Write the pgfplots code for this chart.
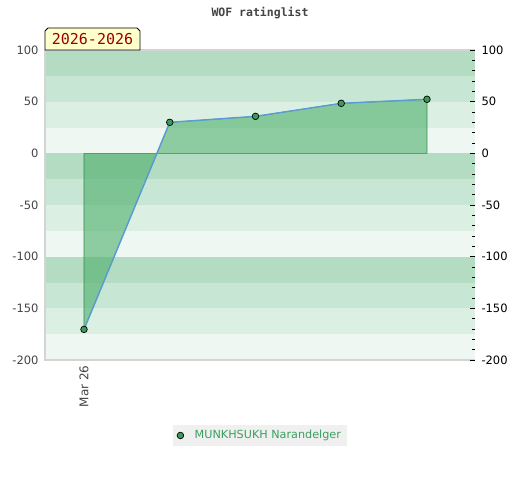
\documentclass[border=0pt]{standalone}
\usepackage{pgfplots}
\pgfplotsset{compat=1.18}
\usepackage{fontspec}
\setmainfont{DejaVu Sans}
\newfontfamily\monofont{DejaVu Sans Mono}
\definecolor{bandA}{HTML}{B3DCC2}
\definecolor{bandB}{HTML}{C8E6D4}
\definecolor{bandC}{HTML}{DCEFE3}
\definecolor{bandD}{HTML}{EFF7F2}
\definecolor{fillgreen}{HTML}{4CAE6A}
\definecolor{edgegreen}{HTML}{2E8B4E}
\definecolor{lineblue}{HTML}{5B9BD5}
\definecolor{markgreen}{HTML}{3A9A5A}
\definecolor{legendbg}{HTML}{F0F0F0}
\definecolor{legendtext}{HTML}{3AA060}
\definecolor{labelgray}{HTML}{444444}
\definecolor{framegray}{HTML}{D4D4D4}
\definecolor{boxyellow}{HTML}{FFFFCC}
\definecolor{boxred}{HTML}{990000}
\begin{document}
\begin{tikzpicture}[x=1pt,y=1pt]
\path (0,0) rectangle (520,480);
\begin{axis}[
  at={(45pt,120pt)}, anchor=south west,
  width=430pt, height=310pt, scale only axis,
  xmin=-0.455, xmax=4.56, ymin=-200, ymax=100,
  axis line style={draw=none},
  xtick={0}, xticklabels={Mar 26},
  x tick label style={rotate=90, anchor=east, font=\fontsize{12}{14}\selectfont, text=labelgray, yshift=0pt, xshift=-2pt},
  ytick={-200,-150,...,100},
  y tick label style={font=\fontsize{11.5}{13}\selectfont, text=labelgray, xshift=-3pt},
  yticklabel pos=left,
  tick style={draw=none},
  /pgf/number format/assume math mode=true,
  clip=false,
  legend style={at={(0.5,-0.2435)}, anchor=center, fill=legendbg, draw=none,
    font=\fontsize{11.2}{13}\selectfont, text=legendtext, inner xsep=4pt, inner ysep=3.5pt},
  legend cell align=left,
]
% background bands
\fill[bandA] (axis cs:-0.455,75) rectangle (axis cs:4.56,100);
\fill[bandB] (axis cs:-0.455,50) rectangle (axis cs:4.56,75);
\fill[bandC] (axis cs:-0.455,25) rectangle (axis cs:4.56,50);
\fill[bandD] (axis cs:-0.455,0) rectangle (axis cs:4.56,25);
\fill[bandA] (axis cs:-0.455,-25) rectangle (axis cs:4.56,0);
\fill[bandB] (axis cs:-0.455,-50) rectangle (axis cs:4.56,-25);
\fill[bandC] (axis cs:-0.455,-75) rectangle (axis cs:4.56,-50);
\fill[bandD] (axis cs:-0.455,-100) rectangle (axis cs:4.56,-75);
\fill[bandA] (axis cs:-0.455,-125) rectangle (axis cs:4.56,-100);
\fill[bandB] (axis cs:-0.455,-150) rectangle (axis cs:4.56,-125);
\fill[bandC] (axis cs:-0.455,-175) rectangle (axis cs:4.56,-150);
\fill[bandD] (axis cs:-0.455,-200) rectangle (axis cs:4.56,-175);
\draw[framegray, line width=1.2pt] (axis cs:-0.455,100) -- (axis cs:-0.455,-200) -- (axis cs:4.56,-200);
\draw[framegray, line width=1.2pt] (axis cs:-0.455,100) -- (axis cs:4.56,100);
% area
\addplot[fill=fillgreen, fill opacity=0.6, draw=edgegreen, line width=0.6pt, forget plot]
  coordinates {(0,0) (0,-170.4) (1,30) (2,35.8) (3,48.4) (4,52.3) (4,0)} -- cycle;
% line
\addplot[color=lineblue, line width=1.4pt, mark=*, mark size=3.3pt,
  mark options={fill=markgreen, draw=black, line width=0.7pt},
  legend image code/.code={\draw[mark=*, mark size=3.3pt, mark options={fill=markgreen, draw=black, line width=0.7pt}] plot coordinates {(0.08cm,0cm)};}]
  coordinates {(0,-170.4) (1,30) (2,35.8) (3,48.4) (4,52.3)};
\addlegendentry{\hspace{9pt}MUNKHSUKH Narandelger}
\end{axis}
\begin{axis}[
  at={(45pt,120pt)}, anchor=south west,
  width=430pt, height=310pt, scale only axis,
  xmin=-0.455, xmax=4.56, ymin=-200, ymax=100,
  axis line style={draw=none},
  xtick=\empty,
  ytick={-200,-150,...,100},
  minor y tick num=4,
  ytick pos=right, yticklabel pos=right,
  tick align=inside,
  major tick length=5pt, minor tick length=3pt,
  tick style={black, line width=0.6pt},
  y tick label style={font=\fontsize{11.5}{13}\selectfont, text=black, xshift=3pt},
  /pgf/number format/assume math mode=true,
]
\end{axis}
% title
\node[font=\monofont\bfseries\fontsize{11.5}{13}\selectfont, text=labelgray] at (260,467) {WOF ratinglist};
% year box
\draw[fill=boxyellow, draw=black, line width=0.8pt] (45,430) -- (45,449) -- (48,452) -- (137,452) -- (140,449) -- (140,430) -- cycle;
\node[font=\monofont\fontsize{15}{17}\selectfont, text=boxred] at (92.5,440.5) {2026-2026};
\end{tikzpicture}
\end{document}
